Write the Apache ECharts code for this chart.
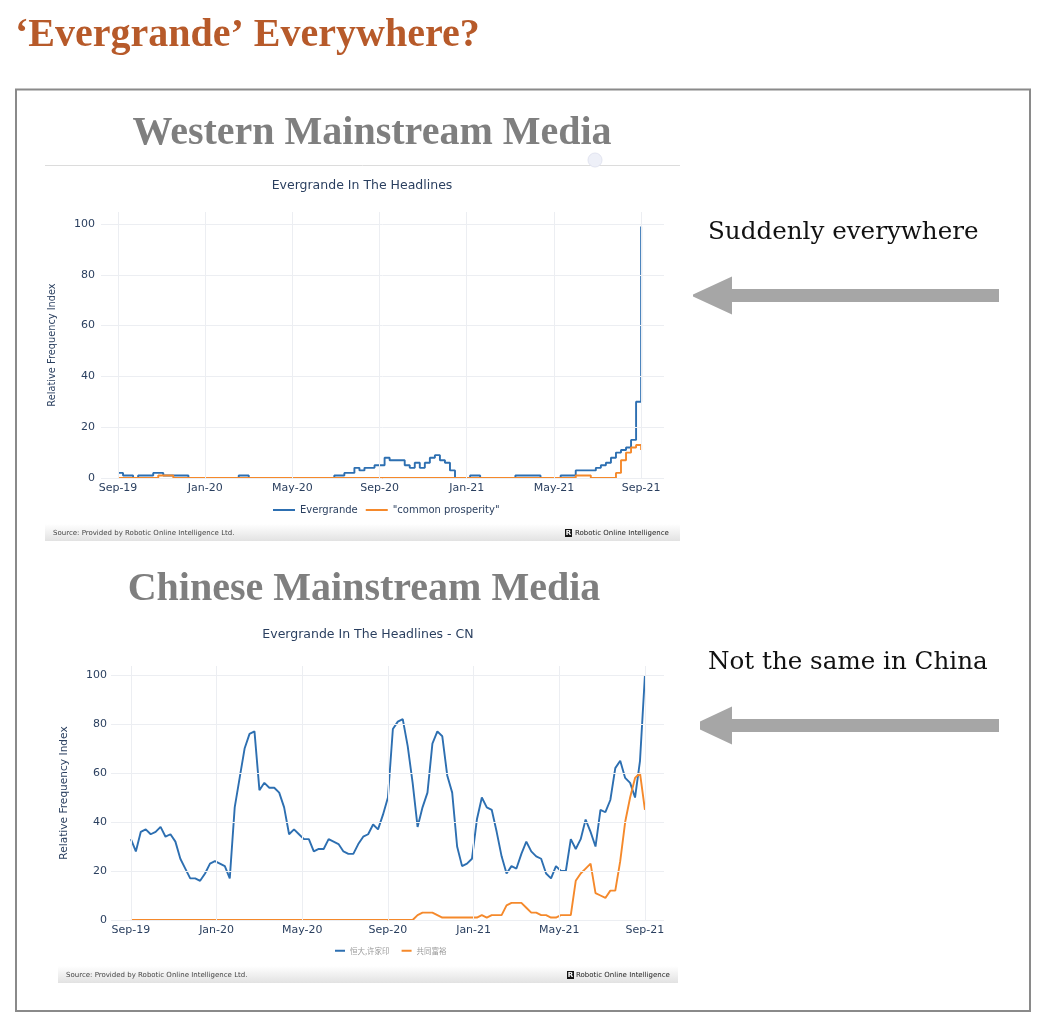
<!DOCTYPE html>
<html>
<head>
<meta charset="utf-8">
<script src="https://cdn.jsdelivr.net/npm/echarts@6.0.0/dist/echarts.min.js"></script>
<style>
  html, body { margin: 0; padding: 0; background: #fff; }
  #chart { width: 1056px; height: 1036px; }
</style>
</head>
<body>
<div id="chart"></div>
<script>
// x軸は「2019年9月からの月数」。目盛りは4か月ごと
const MONTH_TICKS = [0, 4, 8, 12, 16, 20, 24];
const MONTH_LABELS = ['Sep-19', 'Jan-20', 'May-20', 'Sep-20', 'Jan-21', 'May-21', 'Sep-21'];
const VALUE_TICKS = [0, 20, 40, 60, 80, 100];

// 週次の値（2019-09 〜 2021-09）
const westEvergrande = [
  2, 1, 1, 0, 1, 1, 1, 2, 2, 1,
  1, 1, 1, 1, 0, 0, 0, 0, 0, 0,
  0, 0, 0, 0, 1, 1, 0, 0, 0, 0,
  0, 0, 0, 0, 0, 0, 0, 0, 0, 0,
  0, 0, 0, 1, 1, 2, 2, 4, 3, 4,
  4, 5, 5, 8, 7, 7, 7, 5, 4, 6,
  4, 6, 8, 9, 7, 6, 3, 0, 0, 0,
  1, 1, 0, 0, 0, 0, 0, 0, 0, 1,
  1, 1, 1, 1, 0, 0, 0, 0, 1, 1,
  1, 3, 3, 3, 3, 4, 5, 6, 8, 10,
  11, 12, 15, 30, 99,
];
const westCommonProsperity = [
  0, 0, 0, 0, 0, 0, 0, 0, 1, 1,
  1, 0, 0, 0, 0, 0, 0, 0, 0, 0,
  0, 0, 0, 0, 0, 0, 0, 0, 0, 0,
  0, 0, 0, 0, 0, 0, 0, 0, 0, 0,
  0, 0, 0, 0, 0, 0, 0, 0, 0, 0,
  0, 0, 0, 0, 0, 0, 0, 0, 0, 0,
  0, 0, 0, 0, 0, 0, 0, 0, 0, 0,
  0, 0, 0, 0, 0, 0, 0, 0, 0, 0,
  0, 0, 0, 0, 0, 0, 0, 0, 0, 0,
  0, 1, 1, 1, 0, 0, 0, 0, 0, 2,
  7, 10, 12, 13, 11,
];
const cnEvergrande = [
  33, 28, 36, 37, 35, 36, 38, 34, 35, 32,
  25, 21, 17, 17, 16, 19, 23, 24, 23, 22,
  17, 46, 58, 70, 76, 77, 53, 56, 54, 54,
  52, 46, 35, 37, 35, 33, 33, 28, 29, 29,
  33, 32, 31, 28, 27, 27, 31, 34, 35, 39,
  37, 43, 50, 78, 81, 82, 71, 56, 38, 46,
  52, 72, 77, 75, 59, 52, 30, 22, 23, 25,
  41, 50, 46, 45, 36, 26, 19, 22, 21, 27,
  32, 28, 26, 25, 19, 17, 22, 20, 20, 33,
  29, 33, 41, 36, 30, 45, 44, 49, 62, 65,
  58, 56, 50, 65, 100,
];
const cnCommonProsperity = [
  0, 0, 0, 0, 0, 0, 0, 0, 0, 0,
  0, 0, 0, 0, 0, 0, 0, 0, 0, 0,
  0, 0, 0, 0, 0, 0, 0, 0, 0, 0,
  0, 0, 0, 0, 0, 0, 0, 0, 0, 0,
  0, 0, 0, 0, 0, 0, 0, 0, 0, 0,
  0, 0, 0, 0, 0, 0, 0, 0, 2, 3,
  3, 3, 2, 1, 1, 1, 1, 1, 1, 1,
  1, 2, 1, 2, 2, 2, 6, 7, 7, 7,
  5, 3, 3, 2, 2, 1, 1, 2, 2, 2,
  16, 19, 21, 23, 11, 10, 9, 12, 12, 24,
  40, 50, 58, 60, 45,
];

(() => {
  const chart = echarts.init(document.getElementById('chart'), null, { renderer: 'canvas' });

  const SANS = '"DejaVu Sans", Verdana, sans-serif';
  const SERIF = '"Liberation Serif", "DejaVu Serif", serif';
  const AXIS = '#2a3f5f';
  const GRID = '#eceef2';
  const BLUE = '#2d6fb1';
  const ORANGE = '#f5892b';

  // 週次の並びを月数の座標に割り当てる
  const toPairs = (arr) => arr.map((v, i) => [i * 24 / (arr.length - 1), v]);
  const monthLabel = (v) => {
    const k = MONTH_TICKS.indexOf(Math.round(v));
    return k < 0 ? '' : MONTH_LABELS[k];
  };

  const xAxisOf = (gridIndex, min, max, margin) => ({
    type: 'value', gridIndex, min, max,
    axisLine: { show: false }, axisTick: { show: false }, splitLine: { show: false },
    axisLabel: {
      customValues: MONTH_TICKS, formatter: monthLabel, margin,
      color: AXIS, fontSize: 11, fontFamily: SANS,
    },
  });
  const yAxisOf = (gridIndex, max, nameGap, nameSize, margin) => ({
    type: 'value', gridIndex, min: 0, max,
    axisLine: { show: false }, axisTick: { show: false }, splitLine: { show: false },
    axisLabel: { customValues: VALUE_TICKS, margin, color: AXIS, fontSize: 11, fontFamily: SANS },
    name: 'Relative Frequency Index', nameLocation: 'middle', nameGap,
    nameTextStyle: { color: AXIS, fontSize: nameSize, fontFamily: SANS },
  });
  // グリッド線は目盛り配列からmarkLineで引く
  const gridLines = (idx) => ({
    type: 'line', xAxisIndex: idx, yAxisIndex: idx, data: [], z: 1, silent: true,
    markLine: {
      silent: true, symbol: ['none', 'none'], animation: false,
      label: { show: false },
      lineStyle: { color: GRID, type: 'solid', width: 1 },
      data: [
        ...MONTH_TICKS.map((v) => ({ xAxis: v })),
        ...VALUE_TICKS.map((v) => ({ yAxis: v })),
      ],
    },
  });
  const lineSeries = (name, arr, idx, color, step) => ({
    name, type: 'line', xAxisIndex: idx, yAxisIndex: idx,
    data: toPairs(arr), step, symbol: 'none', z: 3,
    lineStyle: { color, width: 1.9 }, itemStyle: { color },
  });

  const sourceBar = (x, y, w, iconX, textX) => [
    {
      type: 'rect', shape: { x, y, width: w, height: 17 },
      style: {
        fill: new echarts.graphic.LinearGradient(0, 0, 0, 1, [
          { offset: 0, color: '#ffffff' }, { offset: 1, color: '#e2e2e2' },
        ]),
      },
    },
    {
      type: 'text',
      style: {
        text: 'Source: Provided by Robotic Online Intelligence Ltd.', x: x + 8, y: y + 9,
        font: '7px ' + SANS, fill: '#444', textVerticalAlign: 'middle',
      },
    },
    { type: 'rect', shape: { x: iconX, y: y + 5, width: 7, height: 8 }, style: { fill: '#151515' } },
    {
      type: 'text',
      style: {
        text: 'R', x: iconX + 3.5, y: y + 9.2, font: 'bold 7px ' + SANS, fill: '#fff',
        textAlign: 'center', textVerticalAlign: 'middle',
      },
    },
    {
      type: 'text',
      style: {
        text: 'Robotic Online Intelligence', x: textX, y: y + 9.5,
        font: '7px ' + SANS, fill: '#222', textVerticalAlign: 'middle',
      },
    },
  ];
  const arrow = (tipX, tipY, tipH) => ({
    type: 'polygon',
    shape: {
      points: [
        [tipX, tipY - tipH / 2], [732, tipY - 19], [732, tipY - 6.5], [999, tipY - 6.5],
        [999, tipY + 6.5], [732, tipY + 6.5], [732, tipY + 19], [tipX, tipY + tipH / 2],
      ],
    },
    style: { fill: '#a6a6a6' },
  });
  const heading = (text, x, y) => ({
    type: 'text',
    style: {
      text, x, y, font: 'bold 40px ' + SERIF, fill: '#7f7f7f',
      textAlign: 'center', textVerticalAlign: 'middle',
      shadowColor: 'rgba(0,0,0,0.25)', shadowBlur: 2, shadowOffsetY: 1,
    },
  });
  const subtitle = (text, x, y) => ({
    type: 'text',
    style: {
      text, x, y, font: '12.5px ' + SANS, fill: AXIS,
      textAlign: 'center', textVerticalAlign: 'middle',
    },
  });
  const note = (text, y) => ({
    type: 'text',
    style: {
      text, x: 708, y, font: '24.6px "DejaVu Serif", serif', fill: '#111',
      textVerticalAlign: 'middle',
    },
  });

  chart.setOption({
    backgroundColor: '#fff',
    animation: false,
    grid: [
      { left: 101, top: 212, width: 563, height: 266 },
      { left: 111, top: 666, width: 553, height: 254 },
    ],
    xAxis: [xAxisOf(0, -0.78, 25.05, 5), xAxisOf(1, -0.93, 24.89, 5)],
    yAxis: [yAxisOf(0, 104.7, 44, 9.8, 6), yAxisOf(1, 103.7, 41, 10.6, 4)],
    legend: [
      {
        data: ['Evergrande', '"common prosperity"'],
        left: 268, top: 500, icon: 'rect', itemWidth: 22, itemHeight: 2, itemGap: 8,
        textStyle: { color: AXIS, fontSize: 10, fontFamily: SANS },
      },
      {
        data: ['恒大,许家印', '共同富裕'],
        left: 330, top: 942, icon: 'rect', itemWidth: 10, itemHeight: 2, itemGap: 12,
        textStyle: { color: '#9a9a9a', fontSize: 7.5, fontFamily: '"Noto Sans CJK SC", sans-serif' },
      },
    ],
    series: [
      gridLines(0),
      gridLines(1),
      lineSeries('Evergrande', westEvergrande, 0, BLUE, 'end'),
      lineSeries('"common prosperity"', westCommonProsperity, 0, ORANGE, 'end'),
      lineSeries('恒大,许家印', cnEvergrande, 1, BLUE, false),
      lineSeries('共同富裕', cnCommonProsperity, 1, ORANGE, false),
    ],
    graphic: [
      {
        type: 'text',
        style: {
          text: '‘Evergrande’ Everywhere?', x: 15, y: 36,
          font: 'bold 40px ' + SERIF, fill: '#b75a2a', textVerticalAlign: 'middle',
        },
      },
      {
        type: 'rect', shape: { x: 16, y: 89.5, width: 1014, height: 921.5 },
        style: { fill: 'none', stroke: '#8a8a8a', lineWidth: 2 },
      },
      heading('Western Mainstream Media', 372, 134),
      { type: 'line', shape: { x1: 45, y1: 165.5, x2: 680, y2: 165.5 }, style: { stroke: '#dcdcdc', lineWidth: 1 } },
      { type: 'circle', shape: { cx: 595, cy: 160, r: 7 }, style: { fill: '#eef0f8', stroke: '#e2e4f0' } },
      subtitle('Evergrande In The Headlines', 362, 186),
      ...sourceBar(45, 524, 635, 565, 575),
      heading('Chinese Mainstream Media', 364, 590),
      subtitle('Evergrande In The Headlines - CN', 368, 635),
      ...sourceBar(58, 966, 620, 567, 576),
      note('Suddenly everywhere', 233),
      arrow(693, 295.5, 2),
      note('Not the same in China', 663),
      arrow(700, 725.5, 8),
    ],
  });
})();
</script>
</body>
</html>
